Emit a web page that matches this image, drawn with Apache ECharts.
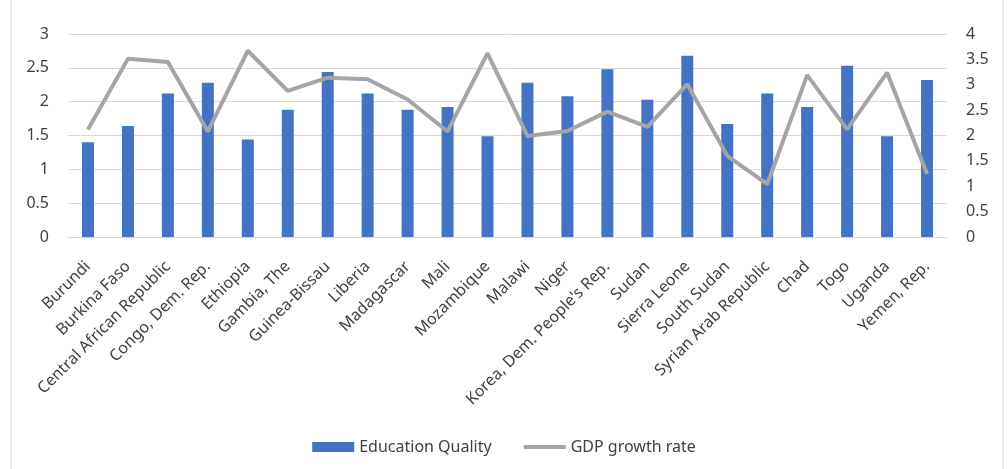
<!DOCTYPE html>
<html><head><meta charset="utf-8">
<script src="https://cdn.jsdelivr.net/npm/echarts@6/dist/echarts.min.js"></script>
<style>html,body{margin:0;padding:0;background:#fff}#c{width:1008px;height:469px}</style>
</head><body><div id="c"></div>
<script>
const categories = ["Burundi","Burkina Faso","Central African Republic","Congo, Dem. Rep.","Ethiopia","Gambia, The","Guinea-Bissau","Liberia","Madagascar","Mali","Mozambique","Malawi","Niger","Korea, Dem. People's Rep.","Sudan","Sierra Leone","South Sudan","Syrian Arab Republic","Chad","Togo","Uganda","Yemen, Rep."];
const educationQuality = [1.40,1.64,2.12,2.28,1.44,1.88,2.44,2.12,1.88,1.92,1.49,2.28,2.08,2.48,2.03,2.68,1.67,2.12,1.92,2.53,1.49,2.32];
const gdpGrowth = [2.12,3.51,3.45,2.08,3.67,2.88,3.14,3.11,2.71,2.08,3.62,1.99,2.09,2.47,2.17,3.01,1.60,1.04,3.19,2.12,3.24,1.24];
const leftTicks = {min:0,max:3,interval:0.5};
const rightTicks = {min:0,max:4,interval:0.5};

const font = "'Noto Sans', sans-serif";
const txt = '#404040';
const chart = echarts.init(document.getElementById('c'), null, {renderer:'canvas'});
chart.setOption({
  animation:false,
  textStyle:{fontFamily:font},
  graphic:[{type:'rect',shape:{x:11,y:-2,width:992,height:475},style:{fill:'none',stroke:'#d9d9d9',lineWidth:1},silent:true}],
  grid:{left:68,right:61,top:34,bottom:232},
  legend:{
    top:434,left:'center',itemGap:32,itemWidth:42,itemHeight:10,
    textStyle:{fontFamily:font,fontSize:16,color:txt},
    data:[{name:'Education Quality',icon:'rect'},
          {name:'GDP growth rate',icon:'path://M0,0 L44,0 L44,4 L0,4 Z'}]
  },
  xAxis:{
    type:'category',data:categories,
    axisTick:{show:false},
    axisLine:{lineStyle:{color:'#d9d9d9'}},
    axisLabel:{rotate:45,interval:0,fontSize:16,color:txt,fontFamily:font,margin:27}
  },
  yAxis:[
    {type:'value',min:leftTicks.min,max:leftTicks.max,interval:leftTicks.interval,
     axisLabel:{fontSize:16,color:txt,fontFamily:font,margin:19},
     splitLine:{lineStyle:{color:'#d9d9d9'}},axisLine:{show:false},axisTick:{show:false}},
    {type:'value',min:rightTicks.min,max:rightTicks.max,interval:rightTicks.interval,
     axisLabel:{fontSize:16,color:txt,fontFamily:font,margin:19},
     splitLine:{show:false},axisLine:{show:false},axisTick:{show:false}}
  ],
  series:[
    {name:'Education Quality',type:'bar',data:educationQuality,yAxisIndex:0,barWidth:12,
     itemStyle:{color:'#4472c4'}},
    {name:'GDP growth rate',type:'line',data:gdpGrowth,yAxisIndex:1,symbol:'none',
     lineStyle:{color:'#a5a5a5',width:4},itemStyle:{color:'#a5a5a5'}}
  ]
});
</script></body></html>
